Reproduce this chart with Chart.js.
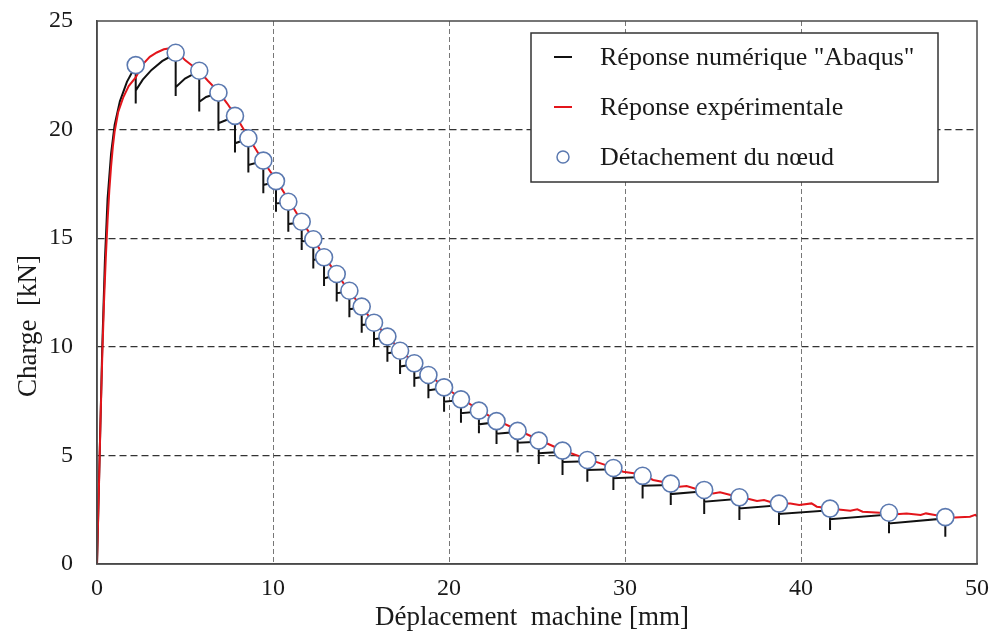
<!DOCTYPE html>
<html>
<head>
<meta charset="utf-8">
<script src="https://cdn.jsdelivr.net/npm/chart.js@4.4.1/dist/chart.umd.min.js"></script>
<style>
  html, body { margin: 0; padding: 0; background: #ffffff; }
  #wrap { width: 993px; height: 634px; }
</style>
</head>
<body>
<div id="wrap"><canvas id="chart" width="993" height="634"></canvas></div>
<script>
// Réponse numérique "Abaqus" (sawtooth: peak, drop, rebound, rise)
var abaqusX = [0, 0.15, 0.3, 0.45, 0.6, 0.8, 1.0, 1.3, 1.7, 2.2,
  2.2, 2.2, 2.6, 3.1, 3.7, 4.47,
  4.47, 4.47, 5.0, 5.81,
  5.81, 5.81, 6.2, 6.9,
  6.9, 6.9, 7.84,
  7.84, 7.84, 8.6,
  8.6, 8.6, 9.45,
  9.45, 9.45, 10.17,
  10.17, 10.17, 10.87,
  10.87, 10.87, 11.63,
  11.63, 11.63, 12.29,
  12.29, 12.29, 12.9,
  12.9, 12.9, 13.62,
  13.62, 13.62, 14.34,
  14.34, 14.34, 15.04,
  15.04, 15.04, 15.74,
  15.74, 15.74, 16.5,
  16.5, 16.5, 17.22,
  17.22, 17.22, 18.03,
  18.03, 18.03, 18.83,
  18.83, 18.83, 19.72,
  19.72, 19.72, 20.68,
  20.68, 20.68, 21.7,
  21.7, 21.7, 22.7,
  22.7, 22.7, 23.9,
  23.9, 23.9, 25.1,
  25.1, 25.1, 26.45,
  26.45, 26.45, 27.86,
  27.86, 27.86, 29.34,
  29.34, 29.34, 31.0,
  31.0, 31.0, 32.6,
  32.6, 32.6, 34.5,
  34.5, 34.5, 36.5,
  36.5, 36.5, 38.75,
  38.75, 38.75, 41.65,
  41.65, 41.65, 45.0,
  45.0, 45.0, 48.2,
  48.2];
var abaqusY = [0, 5, 10, 14, 16.8, 18.9, 20.2, 21.3, 22.2, 22.95,
  21.2, 21.8, 22.3, 22.75, 23.15, 23.5,
  21.55, 21.95, 22.35, 22.7,
  20.83, 21.28, 21.5, 21.68,
  19.95, 20.29, 20.6,
  18.94, 19.37, 19.58,
  18.02, 18.37, 18.55,
  17.07, 17.45, 17.6,
  16.22, 16.6, 16.65,
  15.3, 15.65, 15.73,
  14.46, 14.85, 14.92,
  13.61, 14.0, 14.1,
  12.8, 13.15, 13.32,
  12.08, 12.47, 12.55,
  11.36, 11.73, 11.82,
  10.65, 11.0, 11.08,
  10.0, 10.35, 10.44,
  9.31, 9.7, 9.79,
  8.75, 9.09, 9.2,
  8.16, 8.55, 8.66,
  7.63, 8.0, 8.1,
  7.01, 7.47, 7.55,
  6.5, 6.94, 7.02,
  6.02, 6.43, 6.53,
  5.52, 6.0, 6.08,
  5.13, 5.58, 5.63,
  4.6, 5.1, 5.16,
  4.1, 4.7, 4.73,
  3.79, 4.33, 4.36,
  3.41, 3.95, 4.0,
  3.02, 3.6, 3.64,
  2.72, 3.22, 3.35,
  2.3, 2.87, 3.0,
  2.03, 2.56, 2.7,
  1.8, 2.3, 2.47,
  1.57, 2.06, 2.28,
  1.41, 1.87, 2.1,
  1.26];

// Réponse expérimentale
var expX = [0, 0.1, 0.2, 0.3, 0.4, 0.5, 0.6, 0.7, 0.8, 0.9, 1.0, 1.2, 1.5, 1.8, 2.2, 2.6, 3.0, 3.4, 3.8, 4.2,
  4.6, 5.0, 5.4, 5.8, 6.3, 6.9, 7.4, 7.9, 8.6, 9.4, 10.2, 10.9, 11.6, 12.3, 12.9, 13.6, 14.3, 15.0, 15.7,
  16.5, 17.2, 18.0, 18.8, 19.7, 20.7, 21.7, 22.7, 23.9, 25.1, 26.4, 27.8, 29.3, 29.9, 30.5, 31.0, 31.6,
  32.1, 32.6, 33.1, 33.5, 34.1, 34.5, 35.0, 35.4, 36.0, 36.5, 37.1, 37.5, 37.9, 38.4, 38.75, 39.4, 39.9,
  40.6, 40.9, 41.65, 42.0, 42.8, 43.2, 43.5, 44.5, 45.0, 45.4, 46.0, 46.8, 47.1, 48.2, 48.5, 49.0, 49.6,
  49.9, 50];
var expY = [0, 3.2, 6.6, 9.6, 12.1, 14.1, 15.8, 17.2, 18.3, 19.2, 19.9, 20.8, 21.5, 22.0, 22.4, 23.0, 23.35, 23.55, 23.7, 23.75,
  23.55, 23.2, 22.95, 22.7, 22.25, 21.75, 21.2, 20.6, 19.65, 18.6, 17.65, 16.75, 15.8, 14.98, 14.15, 13.38, 12.6, 11.87, 11.15,
  10.5, 9.87, 9.27, 8.74, 8.17, 7.62, 7.1, 6.62, 6.17, 5.72, 5.25, 4.85, 4.45, 4.25, 4.18, 4.1, 3.87,
  3.79, 3.72, 3.56, 3.59, 3.44, 3.41, 3.25, 3.3, 3.18, 3.07, 2.98, 2.9, 2.95, 2.82, 2.79, 2.79, 2.72,
  2.79, 2.64, 2.57, 2.52, 2.45, 2.52, 2.41, 2.36, 2.35, 2.29, 2.33, 2.26, 2.33, 2.17, 2.13, 2.15, 2.18,
  2.26, 2.2];

// Détachement du nœud
var detachX = [2.2, 4.47, 5.81, 6.9, 7.84, 8.6, 9.45, 10.17, 10.87, 11.63, 12.29, 12.9, 13.62, 14.34, 15.04, 15.74,
  16.5, 17.22, 18.03, 18.83, 19.72, 20.68, 21.7, 22.7, 23.9, 25.1, 26.45, 27.86, 29.34, 31.0, 32.6, 34.5,
  36.5, 38.75, 41.65, 45.0, 48.2];
var detachY = [22.97, 23.54, 22.71, 21.7, 20.63, 19.6, 18.57, 17.63, 16.68, 15.76, 14.95, 14.12, 13.35, 12.58, 11.85, 11.11,
  10.47, 9.82, 9.24, 8.7, 8.13, 7.58, 7.06, 6.58, 6.13, 5.68, 5.22, 4.79, 4.42, 4.06, 3.7, 3.41,
  3.07, 2.78, 2.55, 2.36, 2.16];

var xTicks = [0, 10, 20, 30, 40, 50];
var yTicks = [0, 5, 10, 15, 20, 25];

var serif = "'Liberation Serif', 'Times New Roman', serif";

function toPoints(xs, ys) {
  return xs.map(function(x, i) { return { x: x, y: ys[i] }; });
}

function noScalePadding(scale) {
  scale.paddingTop = 0;
  scale.paddingBottom = 0;
  scale.paddingLeft = 0;
  scale.paddingRight = 0;
}

var legendItems = [
  { label: 'Réponse numérique "Abaqus"', kind: 'line', color: '#111111' },
  { label: 'Réponse expérimentale', kind: 'line', color: '#e3151b' },
  { label: 'Détachement du nœud', kind: 'circle', color: '#5b79b0' }
];

var framePlugin = {
  id: 'frameAndLegend',
  afterDraw: function(chart) {
    var ctx = chart.ctx;
    var a = chart.chartArea;
    ctx.save();

    // plot frame
    ctx.strokeStyle = '#4a4a4a';
    ctx.lineWidth = 1.5;
    ctx.strokeRect(a.left, a.top, a.right - a.left, a.bottom - a.top);

    // legend box
    var bx = a.right - 446, by = a.top + 12, bw = 407, bh = 149;
    ctx.fillStyle = '#ffffff';
    ctx.fillRect(bx, by, bw, bh);
    ctx.strokeStyle = '#333333';
    ctx.lineWidth = 1.5;
    ctx.strokeRect(bx, by, bw, bh);

    ctx.font = '26px ' + serif;
    ctx.textBaseline = 'middle';
    ctx.textAlign = 'left';
    legendItems.forEach(function(item, i) {
      var cy = by + 24 + i * 50;
      var sx = bx + 32;
      if (item.kind === 'line') {
        ctx.strokeStyle = item.color;
        ctx.lineWidth = 2;
        ctx.beginPath();
        ctx.moveTo(sx - 9, cy);
        ctx.lineTo(sx + 9, cy);
        ctx.stroke();
      } else {
        ctx.fillStyle = '#ffffff';
        ctx.strokeStyle = item.color;
        ctx.lineWidth = 1.5;
        ctx.beginPath();
        ctx.arc(sx, cy, 6, 0, Math.PI * 2);
        ctx.fill();
        ctx.stroke();
      }
      ctx.fillStyle = '#1a1a1a';
      ctx.fillText(item.label, bx + 69, cy + 1);
    });

    // axis titles
    ctx.fillStyle = '#1a1a1a';
    ctx.font = '27px ' + serif;
    ctx.textAlign = 'center';
    ctx.textBaseline = 'alphabetic';
    ctx.fillText('Déplacement  machine [mm]', (a.left + a.right) / 2 - 5, 625);

    ctx.translate(36, 326);
    ctx.rotate(-Math.PI / 2);
    ctx.fillText('Charge  [kN]', 0, 0);
    ctx.restore();
  }
};

new Chart(document.getElementById('chart'), {
  type: 'scatter',
  data: {
    datasets: [
      {
        label: 'Détachement du nœud',
        data: toPoints(detachX, detachY),
        showLine: false,
        pointRadius: 8.5,
        pointBackgroundColor: '#ffffff',
        pointBorderColor: '#5b79b0',
        pointBorderWidth: 1.6,
        order: 0
      },
      {
        label: 'Réponse expérimentale',
        data: toPoints(expX, expY),
        showLine: true,
        borderColor: '#e3151b',
        borderWidth: 2,
        pointRadius: 0,
        tension: 0,
        order: 1
      },
      {
        label: 'Réponse numérique "Abaqus"',
        data: toPoints(abaqusX, abaqusY),
        showLine: true,
        borderColor: '#111111',
        borderWidth: 2,
        pointRadius: 0,
        tension: 0,
        order: 2
      }
    ]
  },
  options: {
    responsive: false,
    animation: false,
    layout: { padding: { left: 0, right: 16, top: 21, bottom: 0 } },
    plugins: {
      legend: { display: false },
      tooltip: { enabled: false }
    },
    scales: {
      x: {
        type: 'linear',
        min: 0,
        max: 50,
        afterBuildTicks: function(scale) {
          scale.ticks = xTicks.map(function(v) { return { value: v }; });
        },
        afterFit: function(scale) { scale.height = 70; noScalePadding(scale); },
        ticks: {
          color: '#1a1a1a',
          font: { family: serif, size: 24 },
          padding: 10,
          maxRotation: 0
        },
        grid: {
          drawTicks: false,
          color: function(ctx) {
            var v = ctx.tick ? ctx.tick.value : null;
            return (v === 0 || v === 50) ? 'rgba(0,0,0,0)' : '#777777';
          },
          lineWidth: 1
        },
        border: { display: true, color: '#4a4a4a', width: 1.5, dash: [5, 3] }
      },
      y: {
        type: 'linear',
        min: 0,
        max: 25,
        afterBuildTicks: function(scale) {
          scale.ticks = yTicks.map(function(v) { return { value: v }; });
        },
        afterFit: function(scale) { scale.width = 97; noScalePadding(scale); },
        ticks: {
          color: '#1a1a1a',
          font: { family: serif, size: 24 },
          padding: 24
        },
        grid: {
          drawTicks: false,
          color: function(ctx) {
            var v = ctx.tick ? ctx.tick.value : null;
            return (v === 0 || v === 25) ? 'rgba(0,0,0,0)' : '#333333';
          },
          lineWidth: 1.3
        },
        border: { display: true, color: '#4a4a4a', width: 1.5, dash: [7, 4] }
      }
    }
  },
  plugins: [framePlugin]
});
</script>
</body>
</html>
